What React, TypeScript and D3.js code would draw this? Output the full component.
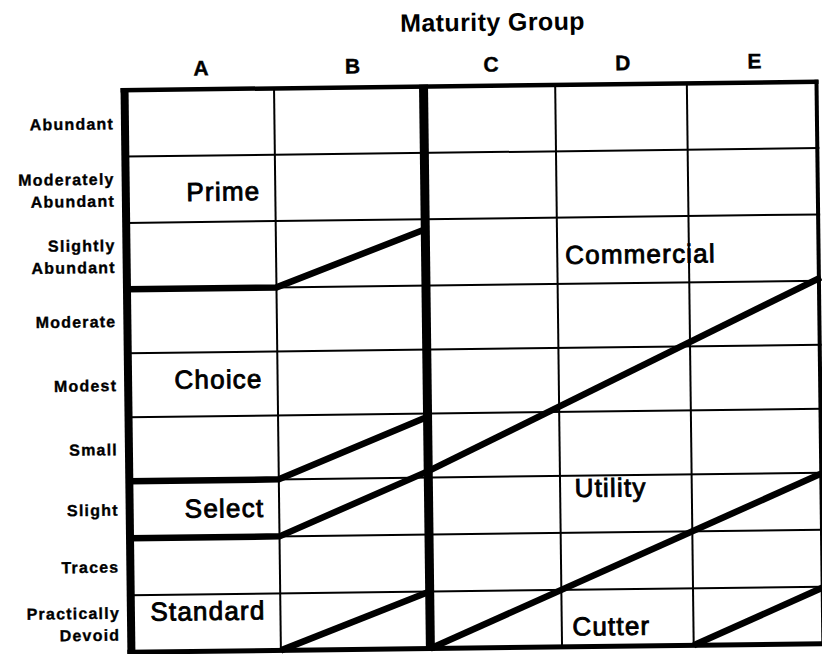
import React from "react";
import * as d3 from "d3";

// ---- data ----
const maturityGroups = ["A", "B", "C", "D", "E"];
// marbling degrees, bottom (score 0-1) to top (score 8-9)
const marblingDegrees = [
  ["Practically", "Devoid"],
  ["Traces"],
  ["Slight"],
  ["Small"],
  ["Modest"],
  ["Moderate"],
  ["Slightly", "Abundant"],
  ["Moderately", "Abundant"],
  ["Abundant"],
];
// grade lower boundaries: [maturity position (0 = start of A, 5 = end of E), marbling score]
const primeLower: [number, number][] = [[0, 6], [1, 6], [2, 6.85]];
const choiceLower: [number, number][] = [[0, 3], [1, 3], [2, 3.95]];
const selectLower: [number, number][] = [[0, 2], [1, 2], [2, 3.1]];
const standardLower: [number, number][] = [[1, 0], [2, 1]];
const commercialLower: [number, number][] = [[2, 3.1], [5, 6.05]];
const utilityLower: [number, number][] = [[2, 0], [5, 3]];
const cutterLower: [number, number][] = [[4, 0], [5, 1]];
const gradeBoundaries = [primeLower, choiceLower, selectLower, standardLower, commercialLower, utilityLower, cutterLower];

// grade names and where they sit: [maturity position, marbling score, anchor]
const gradeNames = ["Prime", "Choice", "Select", "Standard", "Commercial", "Utility", "Cutter"];
const gradeLabelAt: [number, number, string][] = [
  [0.9, 7.46, "end"],
  [0.9, 4.58, "end"],
  [0.9, 2.51, "end"],
  [0.9, 0.71, "end"],
  [3.06, 6.44, "start"],
  [3.11, 2.79, "start"],
  [3.08, 0.36, "start"],
];
const maturityTitle = "Maturity Group";

// ---- layout ----
const W = 822;
const H = 654;
const x = d3.scaleLinear().domain([0, 2, 5]).range([128, 427, 822]);
const y = d3.scaleLinear().domain([0, 3, 6, 9]).range([648, 477, 285, 86]);
const line = d3
  .line<[number, number]>()
  .x((d) => x(d[0]))
  .y((d) => y(d[1]));

const FONT = "'Liberation Sans', Arial, Helvetica, sans-serif";

export default function App() {
  const rows = d3.range(1, marblingDegrees.length); // internal row boundaries
  const thinCols = [1, 3, 4];
  const gradeFs = 26;
  return (
    <svg
      width={W}
      height={H}
      viewBox={`0 0 ${W} ${H}`}
      style={{ position: "absolute", left: 0, top: 0, display: "block", background: "#fff" }}
    >
      <rect x={0} y={0} width={W} height={H} fill="#fff" />
      <g transform="rotate(-0.7 472 371)" fontFamily={FONT} fill="#000">
        {/* title */}
        <text
          x={x(2.5) + 4}
          y={31}
          textAnchor="middle"
          fontSize={25}
          fontWeight="bold"
          letterSpacing={0.4}
        >
          {maturityTitle}
        </text>
        {/* maturity group letters */}
        {maturityGroups.map((g, i) => (
          <text
            key={g}
            x={x(i + 0.5) + (i === 1 ? 4 : 2)}
            y={72}
            textAnchor="middle"
            fontSize={21}
            fontWeight="bold"
            stroke="#000"
            strokeWidth={0.4}
          >
            {g}
          </text>
        ))}
        {/* marbling labels */}
        {marblingDegrees.map((lines, i) => {
          const cy = (y(i) + y(i + 1)) / 2;
          const lh = 22;
          return (
            <text
              key={i}
              textAnchor="end"
              fontSize={16}
              fontWeight="bold"
              letterSpacing={1.2}
              stroke="#000"
              strokeWidth={0.35}
            >
              {lines.map((l, k) => (
                <tspan key={k} x={x(0) - 11} y={cy + 5.8 + (k - (lines.length - 1) / 2) * lh}>
                  {l}
                </tspan>
              ))}
            </text>
          );
        })}
        {/* grade labels */}
        {gradeNames.map((g, i) => {
          const [m, s, anchor] = gradeLabelAt[i];
          return (
            <text
              key={g}
              x={x(m)}
              y={y(s) + 0.36 * gradeFs}
              textAnchor={anchor}
              fontSize={gradeFs}
              letterSpacing={1.2}
              stroke="#000"
              strokeWidth={0.9}
            >
              {g}
            </text>
          );
        })}
        {/* thin grid */}
        <g stroke="#000" strokeWidth={2} fill="none">
          {rows.map((r) => (
            <line key={"r" + r} x1={x(0)} x2={x(5)} y1={y(r)} y2={y(r)} />
          ))}
          {thinCols.map((c) => (
            <line key={"c" + c} x1={x(c)} x2={x(c)} y1={y(9)} y2={y(0)} />
          ))}
        </g>
        {/* grade boundaries */}
        <g stroke="#000" strokeWidth={6.5} fill="none" strokeLinejoin="round" strokeLinecap="butt">
          {gradeBoundaries.map((b, i) => (
            <path key={i} d={line(b) || ""} />
          ))}
        </g>
        {/* frame */}
        <g stroke="#000" fill="none">
          <line x1={x(0) - 4} x2={x(5)} y1={y(9)} y2={y(9)} strokeWidth={4.5} />
          <line x1={x(0) - 4} x2={x(5)} y1={y(0)} y2={y(0)} strokeWidth={5} />
          <line x1={x(0)} x2={x(0)} y1={y(9) - 2} y2={y(0) + 2.5} strokeWidth={8} />
          <line x1={x(2)} x2={x(2)} y1={y(9) - 2} y2={y(0) + 2.5} strokeWidth={9} />
          <line x1={x(5) - 2} x2={x(5) - 2} y1={y(9) - 2} y2={y(0)} strokeWidth={4} />
        </g>
      </g>
    </svg>
  );
}
